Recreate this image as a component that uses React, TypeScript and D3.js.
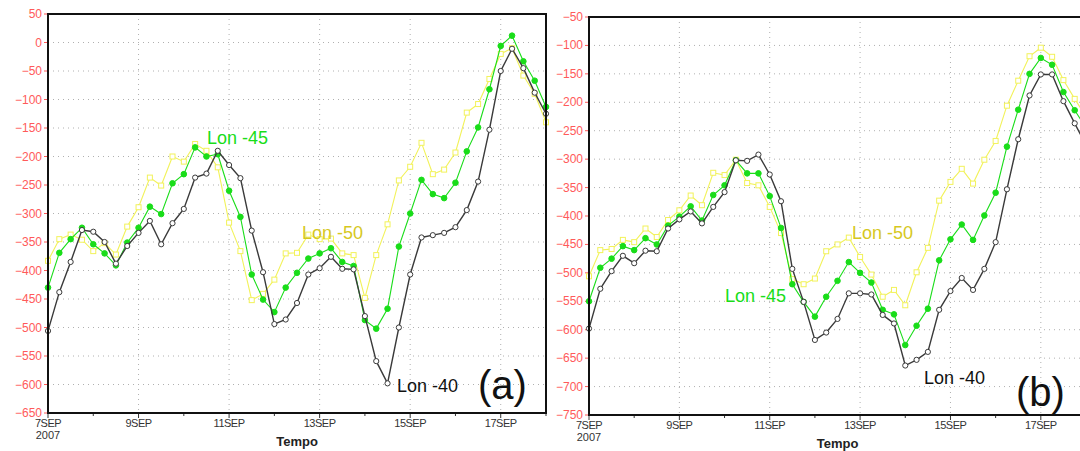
import { useEffect, useRef } from 'react';
import * as d3 from 'd3';

// 6-hourly samples, 7SEP 00Z .. 18SEP 00Z 2007
const START = Date.UTC(2007, 8, 7);
const STEP_H = 6;

const xTickDays = [7, 9, 11, 13, 15, 17];

// panel (a)
const aLon40 = [-506, -438, -385, -329, -332, -350, -388, -357, -334, -313, -354, -317, -292, -237, -230, -190, -215, -238, -330, -403, -494, -486, -457, -407, -396, -376, -397, -398, -480, -559, -598, -500, -407, -342, -338, -334, -324, -294, -244, -153, -50, -11, -45, -88, -125];
const aLon45 = [-430, -369, -345, -325, -354, -370, -391, -351, -325, -288, -301, -247, -231, -184, -200, -196, -260, -306, -407, -451, -473, -430, -404, -379, -370, -361, -385, -392, -487, -502, -467, -358, -300, -241, -266, -273, -246, -191, -149, -82, -6, 12, -33, -67, -113];
const aLon50 = [-383, -345, -337, -346, -366, -352, -372, -323, -289, -237, -251, -200, -209, -178, -190, -219, -316, -366, -452, -441, -416, -370, -369, -337, -345, -344, -370, -373, -448, -373, -319, -242, -218, -176, -231, -223, -193, -123, -108, -64, -20, -10, -58, -90, -140];

// panel (b)
const bLon40 = [-598, -528, -497, -470, -483, -461, -462, -422, -406, -392, -413, -384, -358, -302, -303, -292, -327, -374, -493, -551, -618, -605, -581, -536, -536, -538, -574, -589, -663, -653, -639, -565, -532, -509, -530, -493, -446, -353, -265, -188, -151, -151, -198, -237, -275];
const bLon45 = [-550, -491, -475, -453, -460, -439, -450, -417, -401, -383, -408, -363, -346, -302, -325, -325, -365, -421, -520, -551, -577, -542, -514, -481, -500, -517, -565, -573, -627, -593, -563, -478, -441, -415, -442, -399, -359, -278, -213, -150, -122, -134, -182, -214, -245];
const bLon50 = [-506, -460, -458, -442, -446, -422, -437, -407, -390, -364, -381, -324, -328, -301, -342, -346, -384, -430, -511, -520, -510, -462, -450, -438, -472, -503, -542, -530, -557, -499, -456, -373, -340, -317, -343, -301, -268, -206, -162, -119, -104, -120, -161, -194, -225];

const C = {
    black: '#3a3a3a',
    green: '#19dd19',
    yellow: '#f2f25a',
    yellowText: '#d6c81e',
    grid: '#b0b0b0',
    red: '#ff5a5a',
    tick: '#333',
};

const FONT = '"Liberation Sans", Arial, sans-serif';

type Label = { text: string; x: number; y: number; color: string };

function drawPanel(
    g: d3.Selection<SVGGElement, unknown, null, undefined>,
    opts: {
        left: number; top: number; w: number; h: number;
        yMin: number; yMax: number;
        series: { vals: number[]; kind: 'circle' | 'dot' | 'square' }[];
        labels: Label[];
        tag: string; tagX: number; tagY: number;
    }
) {
    const { left, top, w, h } = opts;
    const x = d3.scaleUtc()
        .domain([new Date(START), new Date(Date.UTC(2007, 8, 18))])
        .range([left, left + w]);
    const y = d3.scaleLinear().domain([opts.yMin, opts.yMax]).range([top + h, top]);
    const t = (i: number) => new Date(START + i * STEP_H * 3600 * 1000);

    const yTicks = d3.range(opts.yMin, opts.yMax + 1, 50);

    // grid
    g.append('g').selectAll('line').data(yTicks.slice(1, -1)).join('line')
        .attr('x1', left).attr('x2', left + w)
        .attr('y1', d => y(d)).attr('y2', d => y(d))
        .attr('stroke', C.grid).attr('stroke-width', 1).attr('stroke-dasharray', '1,4');
    g.append('g').selectAll('line').data(xTickDays.slice(1)).join('line')
        .attr('x1', d => x(new Date(Date.UTC(2007, 8, d)))).attr('x2', d => x(new Date(Date.UTC(2007, 8, d))))
        .attr('y1', top).attr('y2', top + h)
        .attr('stroke', C.grid).attr('stroke-width', 1).attr('stroke-dasharray', '1,4');

    // y axis labels
    const fmt = d3.format('d');
    g.append('g').selectAll('text').data(yTicks).join('text')
        .attr('x', left - 6).attr('y', d => y(d) + 4)
        .attr('text-anchor', 'end')
        .style('font-family', FONT).style('font-size', '12px').style('fill', C.red)
        .text(d => fmt(d));
    g.append('g').selectAll('line').data(yTicks).join('line')
        .attr('x1', left - 4).attr('x2', left)
        .attr('y1', d => y(d)).attr('y2', d => y(d))
        .attr('stroke', C.red).attr('stroke-width', 1);

    // x axis ticks
    const days = d3.range(7, 19);
    g.append('g').selectAll('line').data(days).join('line')
        .attr('x1', d => x(new Date(Date.UTC(2007, 8, d)))).attr('x2', d => x(new Date(Date.UTC(2007, 8, d))))
        .attr('y1', top + h).attr('y2', d => top + h + (d % 2 ? 5 : 3))
        .attr('stroke', C.tick).attr('stroke-width', 1);
    g.append('g').selectAll('text').data(xTickDays).join('text')
        .attr('x', d => x(new Date(Date.UTC(2007, 8, d)))).attr('y', top + h + 14)
        .attr('text-anchor', 'middle')
        .style('font-family', FONT).style('font-size', '11px').style('fill', C.tick)
        .style('letter-spacing', '-0.5px')
        .text(d => `${d}SEP`);
    g.append('text')
        .attr('x', left).attr('y', top + h + 26)
        .attr('text-anchor', 'middle')
        .style('font-family', FONT).style('font-size', '11px').style('fill', C.tick)
        .text('2007');
    g.append('text')
        .attr('x', left + w / 2).attr('y', top + h + 33)
        .attr('text-anchor', 'middle')
        .style('font-family', FONT).style('font-size', '13px').style('font-weight', 'bold').style('fill', '#222')
        .text('Tempo');

    // series
    const line = d3.line<number>().x((_, i) => x(t(i))).y(d => y(d));
    const colorOf = { circle: C.black, dot: C.green, square: C.yellow };
    for (const s of opts.series) {
        const col = colorOf[s.kind];
        g.append('path').datum(s.vals).attr('d', line)
            .attr('fill', 'none').attr('stroke', col)
            .attr('stroke-width', s.kind === 'circle' ? 1.4 : 1.1);
        const pts = g.append('g');
        if (s.kind === 'square') {
            pts.selectAll('rect').data(s.vals).join('rect')
                .attr('x', (_, i) => x(t(i)) - 2.5).attr('y', d => y(d) - 2.5)
                .attr('width', 5).attr('height', 5)
                .attr('fill', '#fff').attr('stroke', col).attr('stroke-width', 1);
        } else {
            pts.selectAll('circle').data(s.vals).join('circle')
                .attr('cx', (_, i) => x(t(i))).attr('cy', d => y(d))
                .attr('r', s.kind === 'dot' ? 2.8 : 2.6)
                .attr('fill', s.kind === 'dot' ? col : '#fff')
                .attr('stroke', col).attr('stroke-width', 1);
        }
    }

    // frame
    g.append('rect')
        .attr('x', left).attr('y', top).attr('width', w).attr('height', h)
        .attr('fill', 'none').attr('stroke', '#111').attr('stroke-width', 2);

    for (const l of opts.labels) {
        g.append('text').attr('x', l.x).attr('y', l.y)
            .style('font-family', FONT).style('font-size', '18px').style('fill', l.color)
            .text(l.text);
    }
    g.append('text').attr('x', opts.tagX).attr('y', opts.tagY)
        .style('font-family', FONT).style('font-size', '40px').style('fill', '#111')
        .text(opts.tag);
}

export default function App() {
    const svgRef = useRef<SVGSVGElement>(null);

    useEffect(() => {
        if (!svgRef.current) return;
        const svg = d3.select(svgRef.current);
        svg.selectAll('*').remove();
        const g = svg.append('g');

        drawPanel(g, {
            left: 48, top: 14, w: 498, h: 399, yMin: -650, yMax: 50,
            series: [
                { vals: aLon50, kind: 'square' },
                { vals: aLon45, kind: 'dot' },
                { vals: aLon40, kind: 'circle' },
            ],
            labels: [
                { text: 'Lon -45', x: 207, y: 144, color: C.green },
                { text: 'Lon -50', x: 302, y: 239, color: C.yellowText },
                { text: 'Lon -40', x: 397, y: 392, color: '#111' },
            ],
            tag: '(a)', tagX: 478, tagY: 399,
        });

        drawPanel(g, {
            left: 589, top: 17, w: 497, h: 398, yMin: -750, yMax: -50,
            series: [
                { vals: bLon50, kind: 'square' },
                { vals: bLon45, kind: 'dot' },
                { vals: bLon40, kind: 'circle' },
            ],
            labels: [
                { text: 'Lon -50', x: 852, y: 239, color: C.yellowText },
                { text: 'Lon -45', x: 725, y: 302, color: C.green },
                { text: 'Lon -40', x: 924, y: 384, color: '#111' },
            ],
            tag: '(b)', tagX: 1016, tagY: 406,
        });
    }, []);

    return (
        <svg ref={svgRef} width={1080} height={451}
            style={{ position: 'absolute', left: 0, top: 0, background: '#fff' }} />
    );
}
